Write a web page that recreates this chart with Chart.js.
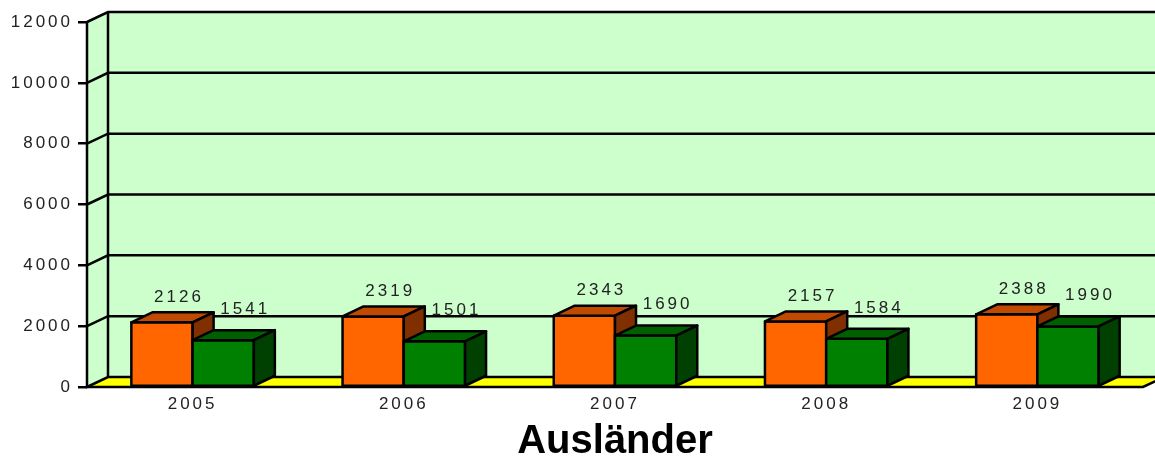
<!DOCTYPE html>
<html>
<head>
<meta charset="utf-8">
<script src="https://cdn.jsdelivr.net/npm/chart.js@4/dist/chart.umd.min.js"></script>
<style>
  html, body { margin: 0; padding: 0; background: #fff; }
  #wrap { width: 1155px; height: 457px; }
</style>
</head>
<body>
<div id="wrap"><canvas id="chart"></canvas></div>
<script>
const years = ['2005', '2006', '2007', '2008', '2009'];
const seriesOrange = [2126, 2319, 2343, 2157, 2388];
const seriesGreen = [1541, 1501, 1690, 1584, 1990];
const yTicks = [0, 2000, 4000, 6000, 8000, 10000, 12000];
const chartTitle = 'Ausländer';

// depth of the fake 3d
const DX = 21, DY = -10;
const FONT = "'Liberation Sans', Arial, sans-serif";
const LW = 2.5;

const faces = [
    { front: '#FF6600', top: '#C04A00', side: '#803000', labelDx: 17, labelDy: 25 },
    { front: '#008000', top: '#006000', side: '#004000', labelDx: 22, labelDy: 31 }
];

const poly = (ctx, pts, fill) => {
    ctx.beginPath();
    ctx.moveTo(pts[0][0], pts[0][1]);
    for (let i = 1; i < pts.length; i++) ctx.lineTo(pts[i][0], pts[i][1]);
    ctx.closePath();
    if (fill) { ctx.fillStyle = fill; ctx.fill(); }
    ctx.stroke();
};

const box3d = {
    id: 'box3d',
    beforeDraw(chart) {
        chart.ctx.letterSpacing = '3px';
    },
    beforeDatasetsDraw(chart) {
        const { ctx, chartArea: { left: L, right: R, top: T, bottom: B }, scales: { y } } = chart;
        ctx.save();
        ctx.lineWidth = LW;
        ctx.strokeStyle = '#000';
        // back wall + left wall
        ctx.fillStyle = '#CCFFCC';
        ctx.fillRect(L + DX, T + DY, chart.width, B - T);
        ctx.beginPath();
        ctx.moveTo(L, T); ctx.lineTo(L + DX, T + DY); ctx.lineTo(L + DX, B + DY); ctx.lineTo(L, B);
        ctx.closePath(); ctx.fill();
        // floor
        ctx.beginPath();
        ctx.moveTo(L, B); ctx.lineTo(L + DX, B + DY); ctx.lineTo(R + DX, B + DY); ctx.lineTo(R, B);
        ctx.closePath();
        ctx.fillStyle = '#FFFF00'; ctx.fill();
        // grid lines on the walls
        yTicks.forEach(v => {
            const py = y.getPixelForValue(v);
            ctx.beginPath();
            ctx.moveTo(L, py);
            ctx.lineTo(L + DX, py + DY);
            ctx.lineTo(chart.width + 5, py + DY);
            ctx.stroke();
        });
        ctx.beginPath();
        ctx.moveTo(L, T); ctx.lineTo(L, B); ctx.lineTo(R, B); ctx.lineTo(R + DX, B + DY);
        ctx.moveTo(L + DX, T + DY); ctx.lineTo(L + DX, B + DY);
        ctx.stroke();
        ctx.restore();
    },
    afterDatasetsDraw(chart) {
        const { ctx } = chart;
        const metas = chart.data.datasets.map((d, i) => chart.getDatasetMeta(i));
        ctx.save();
        ctx.lineWidth = LW;
        ctx.strokeStyle = '#000';
        ctx.lineJoin = 'round';
        for (let j = 0; j < years.length; j++) {
            metas.forEach((meta, i) => {
                const { x, y, base, width } = meta.data[j].getProps(['x', 'y', 'base', 'width'], true);
                const x0 = x - width / 2, x1 = x + width / 2;
                const f = faces[i];
                poly(ctx, [[x0, y], [x1, y], [x1, base], [x0, base]], f.front);
                poly(ctx, [[x0, y], [x0 + DX, y + DY], [x1 + DX, y + DY], [x1, y]], f.top);
                poly(ctx, [[x1, y], [x1 + DX, y + DY], [x1 + DX, base + DY], [x1, base]], f.side);
            });
        }
        // value labels
        ctx.fillStyle = '#222';
        ctx.font = '17px ' + FONT;
        ctx.textAlign = 'center';
        ctx.textBaseline = 'middle';
        metas.forEach((meta, i) => {
            meta.data.forEach((bar, j) => {
                const { x, y } = bar.getProps(['x', 'y'], true);
                ctx.fillText(String(chart.data.datasets[i].data[j]), x + faces[i].labelDx, y - faces[i].labelDy);
            });
        });
        ctx.restore();
    },
    afterDraw(chart) {
        const { ctx, chartArea: { left: L, right: R } } = chart;
        ctx.save();
        ctx.letterSpacing = '0px';
        ctx.fillStyle = '#000';
        ctx.font = 'bold 40px ' + FONT;
        ctx.textAlign = 'center';
        ctx.textBaseline = 'alphabetic';
        ctx.fillText(chartTitle, (L + R) / 2, 453);
        ctx.restore();
    }
};

new Chart(document.getElementById('chart'), {
    type: 'bar',
    data: {
        labels: years,
        datasets: [
            { data: seriesOrange, backgroundColor: faces[0].front, borderColor: '#000', borderWidth: 2 },
            { data: seriesGreen, backgroundColor: faces[1].front, borderColor: '#000', borderWidth: 2 }
        ]
    },
    options: {
        responsive: true,
        maintainAspectRatio: false,
        animation: false,
        datasets: { bar: { categoryPercentage: 0.58, barPercentage: 1 } },
        layout: { padding: { top: 22, right: 12, left: 0, bottom: 0 } },
        scales: {
            x: {
                grid: { display: false, drawTicks: false },
                border: { display: false },
                ticks: { color: '#222', font: { family: FONT, size: 17 }, padding: 7, maxRotation: 0 },
                afterFit: s => { s.height = 70; }
            },
            y: {
                min: 0,
                max: 12000,
                afterBuildTicks: s => { s.ticks = yTicks.map(v => ({ value: v })); },
                grid: { drawOnChartArea: false, drawTicks: true, tickLength: 9, color: '#000', lineWidth: LW },
                border: { display: false },
                ticks: { color: '#222', font: { family: FONT, size: 17 }, padding: 5, callback: v => String(v) },
                afterFit: s => { s.width = 87; }
            }
        },
        plugins: {
            legend: { display: false },
            tooltip: { enabled: false },
            title: { display: false }
        }
    },
    plugins: [box3d]
});
</script>
</body>
</html>
